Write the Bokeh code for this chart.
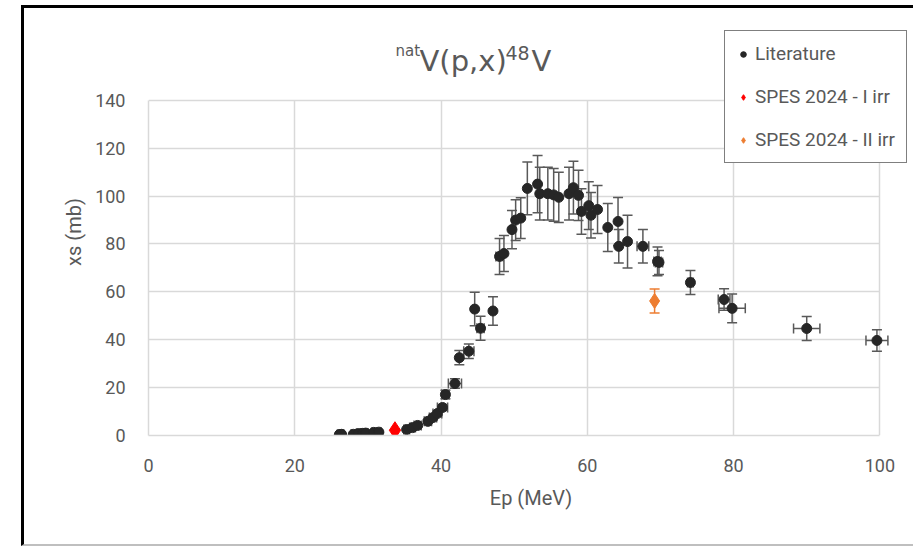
from bokeh.plotting import figure
from bokeh.models import ColumnDataSource, Whisker, TeeHead, Label, Legend, LegendItem, Range1d
from bokeh.embed import file_html
from bokeh.resources import INLINE

# ---- data ----
lit_ep = [26.1, 26.4, 28.0, 28.7, 29.3, 29.7, 30.8, 31.5,
          35.3, 36.1, 36.8, 38.2, 38.9, 39.5, 40.2, 40.6, 41.9,
          42.5, 43.8, 44.6, 45.4, 47.1,
          48.0, 48.6, 49.7, 50.2, 50.9, 51.8,
          53.2, 53.5, 54.6, 55.4, 56.1, 57.5, 58.1, 58.8, 59.2,
          60.2, 60.5, 61.4, 62.8, 64.2, 64.3, 65.5, 67.6, 69.6, 69.8,
          74.1, 78.7, 79.8, 90.0, 99.6]
lit_xs = [0.4, 0.5, 0.5, 0.8, 0.9, 1.0, 1.3, 1.4,
          2.5, 3.3, 4.2, 5.9, 7.5, 9.2, 11.7, 17.1, 21.7,
          32.5, 35.2, 52.8, 44.8, 52.0,
          74.8, 76.0, 86.0, 90.0, 90.8, 103.2,
          105.0, 101.0, 101.0, 100.5, 99.5, 101.0, 103.5, 100.3, 93.6,
          96.0, 92.0, 94.4, 86.9, 89.4, 79.0, 81.0, 79.0, 72.7, 72.3,
          63.9, 56.8, 53.1, 44.7, 39.7]
lit_dxs = [0.2, 0.2, 0.2, 0.2, 0.2, 0.2, 0.3, 0.3,
           0.3, 0.4, 0.5, 0.7, 0.9, 1.0, 1.3, 1.8, 2.0,
           3.0, 3.0, 7.0, 5.0, 6.0,
           7.5, 7.5, 8.0, 8.5, 8.5, 11.0,
           12.0, 11.0, 11.0, 11.0, 10.5, 11.0, 11.0, 10.5, 9.5,
           10.0, 9.5, 10.0, 10.0, 10.0, 7.0, 11.0, 7.0, 6.0, 5.0,
           5.0, 4.5, 6.0, 5.0, 4.5]
lit_dep = [0.3, 0.3, 0.3, 0.3, 0.3, 0.3, 0.3, 0.3,
           0.4, 0.4, 0.5, 0.5, 0.5, 0.6, 0.7, 0.5, 0.9,
           0.0, 0.7, 0.0, 0.5, 0.0,
           0.5, 0.0, 0.0, 0.0, 0.0, 0.0,
           0.0, 0.0, 0.0, 0.0, 0.0, 0.0, 0.0, 0.0, 0.0,
           0.0, 0.0, 0.0, 0.0, 0.0, 0.0, 0.0, 0.8, 0.5, 0.5,
           0.4, 0.8, 1.8, 1.8, 1.5]

spes1_ep = [33.7]
spes1_xs = [2.2]
spes1_dxs = [0.3]

spes2_ep = [69.2]
spes2_xs = [56.2]
spes2_dxs = [5.0]

x_ticks = [0, 20, 40, 60, 80, 100]
y_ticks = [0, 20, 40, 60, 80, 100, 120, 140]

legend_labels = ["Literature", "SPES 2024 - I irr", "SPES 2024 - II irr"]

# ---- styling ----
FONT = "Roboto"
TITLE_FONT = "DejaVu Sans"
GRID = "#d9d9d9"
TXT = "#595959"
DARK = "#262626"
BAR = "#595959"
RED = "#ff0000"
ORANGE = "#ed7d31"

# frame extends beyond the plot area so that legend and title are not clipped
p = figure(frame_width=765, frame_height=407,
           min_border_left=124, min_border_right=0,
           min_border_top=20, min_border_bottom=109,
           x_range=Range1d(0, 104.6), y_range=Range1d(0, 170),
           output_backend="svg", toolbar_location=None,
           margin=(5, 0, 0, 21),
           styles={"border-left": "3px solid black",
                   "border-top": "3px solid black",
                   "border-bottom": "2px solid #bfbfbf"})
p.background_fill_color = "white"
p.border_fill_color = "white"
p.outline_line_color = None

for ax in (p.xaxis[0], p.yaxis[0]):
    ax.axis_line_color = GRID
    ax.axis_line_width = 1.5
    ax.major_tick_line_color = None
    ax.minor_tick_line_color = None
    ax.major_label_text_font = FONT
    ax.major_label_text_font_size = "18px"
    ax.major_label_text_color = TXT
    ax.axis_label_text_font = FONT
    ax.axis_label_text_font_size = "20px"
    ax.axis_label_text_font_style = "normal"
    ax.axis_label_text_color = TXT

p.xaxis.ticker = x_ticks
p.yaxis.ticker = y_ticks
p.xaxis.bounds = (x_ticks[0], x_ticks[-1])
p.yaxis.bounds = (y_ticks[0], y_ticks[-1])
p.xaxis.axis_label = "Ep (MeV)"
p.yaxis.axis_label = "xs (mb)"
p.xaxis.major_label_standoff = 17
p.yaxis.major_label_standoff = 17
p.xaxis.axis_label_standoff = 11
p.yaxis.axis_label_standoff = 6

p.xgrid.ticker = x_ticks
p.ygrid.ticker = y_ticks
p.xgrid.grid_line_color = GRID
p.ygrid.grid_line_color = GRID
p.xgrid.grid_line_width = 1.5
p.ygrid.grid_line_width = 1.5
try:
    p.xgrid.cross_bounds = (y_ticks[0], y_ticks[-1])
    p.ygrid.cross_bounds = (x_ticks[0], x_ticks[-1])
except Exception:
    p.xgrid.visible = False
    p.ygrid.visible = False
    p.segment(x0=x_ticks, y0=[y_ticks[0]] * len(x_ticks), x1=x_ticks,
              y1=[y_ticks[-1]] * len(x_ticks), line_color=GRID, line_width=1.5, level="underlay")
    p.segment(x0=[x_ticks[0]] * len(y_ticks), y0=y_ticks, x1=[x_ticks[-1]] * len(y_ticks),
              y1=y_ticks, line_color=GRID, line_width=1.5, level="underlay")

# ---- sources ----
lit = ColumnDataSource(dict(
    x=lit_ep, y=lit_xs,
    yl=[v - d for v, d in zip(lit_xs, lit_dxs)],
    yu=[v + d for v, d in zip(lit_xs, lit_dxs)]))
idx = [i for i, d in enumerate(lit_dep) if d > 0]
litx = ColumnDataSource(dict(
    y=[lit_xs[i] for i in idx],
    xl=[lit_ep[i] - lit_dep[i] for i in idx],
    xu=[lit_ep[i] + lit_dep[i] for i in idx]))
s1 = ColumnDataSource(dict(
    x=spes1_ep, y=spes1_xs,
    yl=[v - d for v, d in zip(spes1_xs, spes1_dxs)],
    yu=[v + d for v, d in zip(spes1_xs, spes1_dxs)]))
s2 = ColumnDataSource(dict(
    x=spes2_ep, y=spes2_xs,
    yl=[v - d for v, d in zip(spes2_xs, spes2_dxs)],
    yu=[v + d for v, d in zip(spes2_xs, spes2_dxs)]))


def tee(color):
    return TeeHead(size=10, line_color=color, line_width=1.5)


p.add_layout(Whisker(source=lit, base="x", lower="yl", upper="yu", dimension="height",
                     line_color=BAR, line_width=1.5,
                     lower_head=tee(BAR), upper_head=tee(BAR), level="underlay"))
p.add_layout(Whisker(source=litx, base="y", lower="xl", upper="xu", dimension="width",
                     line_color=BAR, line_width=1.5,
                     lower_head=tee(BAR), upper_head=tee(BAR), level="underlay"))
p.add_layout(Whisker(source=s2, base="x", lower="yl", upper="yu", dimension="height",
                     line_color=ORANGE, line_width=1.5,
                     lower_head=tee(ORANGE), upper_head=tee(ORANGE), level="underlay"))

r_lit = p.scatter("x", "y", source=lit, marker="circle", size=10,
                  fill_color=DARK, line_color=DARK)
r_s1 = p.scatter("x", "y", source=s1, marker="diamond", size=17,
                 fill_color=RED, line_color=RED)
r_s2 = p.scatter("x", "y", source=s2, marker="diamond", size=15,
                 fill_color=ORANGE, line_color=ORANGE)

legend = Legend(items=[LegendItem(label=legend_labels[0], renderers=[r_lit]),
                       LegendItem(label=legend_labels[1], renderers=[r_s1]),
                       LegendItem(label=legend_labels[2], renderers=[r_s2])],
                location=(576, 272), orientation="vertical",
                label_text_font=FONT, label_text_font_size="19px",
                label_text_color=TXT, label_standoff=5,
                glyph_width=14, glyph_height=20, label_height=20,
                spacing=20, padding=11, margin=0,
                border_line_color="black", border_line_width=1.5,
                background_fill_color="white", background_fill_alpha=1.0)
p.add_layout(legend)

# ---- title with superscripts (screen offsets from the frame's bottom-left) ----
title_parts = [("nat", 247, 385, "15px"), ("V(p,x)", 271, 375, "29px"),
               ("48", 357, 383, "19px"), ("V", 383, 375, "29px")]
for txt, xs, ys, fs in title_parts:
    p.add_layout(Label(x=xs, y=ys, x_units="screen", y_units="screen", text=txt,
                       text_font=TITLE_FONT, text_font_size=fs, text_color=TXT,
                       text_baseline="alphabetic", text_align="left"))

open("out.html", "w").write(file_html(p, INLINE))
